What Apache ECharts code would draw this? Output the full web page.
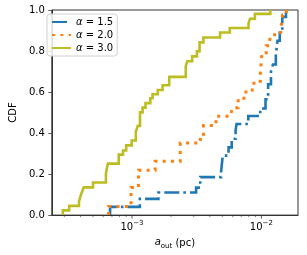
<!DOCTYPE html>
<html>
<head>
<meta charset="utf-8">
<script src="https://cdn.jsdelivr.net/npm/echarts@6/dist/echarts.min.js"></script>
<style>
html,body{margin:0;padding:0;background:#fff;}
#c{width:307px;height:255px;}
</style>
</head>
<body>
<div id="c"></div>
<script>
// ---- data ----
const seriesNames = ['α = 1.5', 'α = 2.0', 'α = 3.0'];

// α = 1.5 : a_out (pc) at each CDF jump, and CDF level after the jump
const a15X = [6.77e-4, 6.77e-4, 1.15e-3, 1.60e-3, 3.13e-3, 3.37e-3, 4.88e-3, 5.03e-3, 5.58e-3, 5.90e-3, 6.32e-3, 6.43e-3, 7.93e-3, 9.80e-3, 1.077e-2, 1.128e-2, 1.187e-2, 1.229e-2, 1.294e-2, 1.333e-2, 1.387e-2, 1.452e-2, 1.55e-2];
const a15Y = [0, 0.040, 0.079, 0.110, 0.134, 0.185, 0.210, 0.290, 0.330, 0.372, 0.412, 0.444, 0.483, 0.520, 0.565, 0.638, 0.700, 0.734, 0.780, 0.850, 0.900, 0.966, 1.0];

// α = 2.0
const a20X = [6.59e-4, 6.59e-4, 9.83e-4, 1.122e-3, 1.51e-3, 2.36e-3, 3.37e-3, 3.57e-3, 4.46e-3, 5.77e-3, 5.97e-3, 6.62e-3, 7.60e-3, 8.76e-3, 9.83e-3, 1.009e-2, 1.09e-2, 1.153e-2, 1.187e-2, 1.41e-2, 1.435e-2, 1.46e-2, 1.563e-2];
const a20Y = [0, 0.042, 0.134, 0.219, 0.262, 0.351, 0.369, 0.437, 0.482, 0.490, 0.523, 0.570, 0.610, 0.652, 0.697, 0.783, 0.826, 0.847, 0.879, 0.903, 0.939, 0.976, 1.0];

// α = 3.0
const a30X = [2.92e-4, 2.92e-4, 3.27e-4, 3.89e-4, 3.99e-4, 4.11e-4, 4.24e-4, 5.00e-4, 6.29e-4, 6.51e-4, 7.90e-4, 8.52e-4, 9.02e-4, 9.95e-4, 1.071e-3, 1.109e-3, 1.153e-3, 1.208e-3, 1.272e-3, 1.386e-3, 1.442e-3, 1.582e-3, 1.724e-3, 1.94e-3, 2.604e-3, 2.677e-3, 2.917e-3, 3.178e-3, 3.330e-3, 3.566e-3, 4.80e-3, 5.70e-3, 7.96e-3, 8.18e-3, 8.91e-3, 1.173e-2];
const a30Y = [0, 0.023, 0.045, 0.066, 0.090, 0.114, 0.135, 0.159, 0.203, 0.251, 0.295, 0.315, 0.340, 0.364, 0.407, 0.435, 0.501, 0.524, 0.546, 0.570, 0.589, 0.610, 0.633, 0.674, 0.726, 0.750, 0.774, 0.799, 0.842, 0.866, 0.890, 0.912, 0.936, 0.957, 0.981, 1.0];

// axis ranges and ticks
const xMin = 2.40e-4, xMax = 1.92e-2;
const majorTicks = [1e-3, 1e-2];
const minorTicks = [3e-4, 4e-4, 5e-4, 6e-4, 7e-4, 8e-4, 9e-4, 2e-3, 3e-3, 4e-3, 5e-3, 6e-3, 7e-3, 8e-3, 9e-3];
const yTicks = [0, 0.2, 0.4, 0.6, 0.8, 1.0];

// ---- build ----
const zip = (xs, ys) => xs.map((x, i) => [x, ys[i]]);
const colors = ['#1f77b4', '#ff7f0e', '#bcbd22'];
const styles = [
  { width: 2.6, type: [15, 4, 2.6, 4], cap: 'butt' },
  { width: 3, type: [3, 5.3], cap: 'butt' },
  { width: 2.6, type: 'solid', cap: 'butt' }
];
const datas = [zip(a15X, a15Y), zip(a20X, a20Y), zip(a30X, a30Y)];

const lineSeries = datas.map((d, i) => ({
  name: seriesNames[i],
  type: 'line',
  step: 'end',
  data: d,
  symbol: 'none',
  showSymbol: false,
  clip: false,
  color: colors[i],
  lineStyle: { color: colors[i], width: styles[i].width, type: styles[i].type, cap: styles[i].cap, join: 'miter' },
  z: 3 + i
}));

const tickData = majorTicks.map(v => [v, 3.5, 0.8]).concat(minorTicks.map(v => [v, 2, 0.6]));
const tickSeries = {
  type: 'custom',
  silent: true,
  clip: false,
  z: 10,
  data: tickData,
  encode: { x: 0, y: 1 },
  renderItem: function (params, api) {
    const p = api.coord([api.value(0), 0]);
    const len = api.value(1);
    const w = api.value(2);
    return {
      type: 'line',
      shape: { x1: p[0], y1: p[1], x2: p[0], y2: p[1] + len },
      style: { stroke: '#333', lineWidth: w }
    };
  }
};

const chart = echarts.init(document.getElementById('c'), null, { renderer: 'canvas' });
chart.setOption({
  animation: false,
  backgroundColor: '#fff',
  textStyle: { fontFamily: 'DejaVu Sans', color: '#000' },
  grid: { left: 43, right: 9, top: 10, bottom: 38, show: true, borderColor: '#333', borderWidth: 1, backgroundColor: 'transparent' },
  legend: {
    left: 47, top: 14,
    orient: 'vertical',
    itemWidth: 19, itemHeight: 10, itemGap: 3,
    padding: [3, 4, 3, 4],
    borderColor: '#d0d0d0', borderWidth: 1, borderRadius: 3,
    backgroundColor: 'rgba(255,255,255,0.85)',
    data: seriesNames,
    itemStyle: { opacity: 0, color: 'transparent', borderColor: 'transparent', borderWidth: 0 },
    formatter: n => n.replace('α', '{i|α}'),
    textStyle: {
      fontFamily: 'DejaVu Sans', fontSize: 10, color: '#000',
      rich: { i: { fontStyle: 'italic', fontFamily: 'DejaVu Sans', fontSize: 10, color: '#000' } }
    }
  },
  xAxis: {
    type: 'log', logBase: 10, min: xMin, max: xMax,
    axisLine: { show: true, lineStyle: { color: '#333', width: 1 } },
    axisTick: { show: false },
    splitLine: { show: false },
    minorTick: { show: false },
    axisLabel: {
      margin: 5,
      formatter: function (v) {
        const e = Math.log10(v);
        if (Math.abs(e - Math.round(e)) > 1e-6) return '';
        const n = Math.round(e);
        return '{b|10}{s|' + (n < 0 ? '\u2212' : '') + Math.abs(n) + '}';
      },
      rich: {
        b: { fontFamily: 'DejaVu Sans', fontSize: 10, color: '#000', lineHeight: 12, verticalAlign: 'bottom' },
        s: { fontFamily: 'DejaVu Sans', fontSize: 7, color: '#000', lineHeight: 12, verticalAlign: 'top' }
      }
    },
    name: '{i|a}{sub|out} (pc)',
    nameLocation: 'middle',
    nameGap: 17,
    nameTextStyle: {
      fontFamily: 'DejaVu Sans', fontSize: 10, color: '#000',
      rich: {
        i: { fontStyle: 'italic', fontFamily: 'DejaVu Sans', fontSize: 10, color: '#000', lineHeight: 13, verticalAlign: 'top' },
        sub: { fontFamily: 'DejaVu Sans', fontSize: 7, color: '#000', lineHeight: 13, verticalAlign: 'bottom' }
      }
    }
  },
  yAxis: {
    type: 'value', min: 0, max: 1, interval: 0.2,
    axisLine: { show: true, lineStyle: { color: '#333', width: 1 } },
    axisTick: { show: true, inside: false, length: 3.5, lineStyle: { color: '#333', width: 0.8 } },
    splitLine: { show: false },
    axisLabel: { margin: 7, fontSize: 10, color: '#000', fontFamily: 'DejaVu Sans', formatter: v => v.toFixed(1) },
    name: 'CDF',
    nameLocation: 'middle',
    nameGap: 29,
    nameTextStyle: { fontFamily: 'DejaVu Sans', fontSize: 10, color: '#000' }
  },
  series: lineSeries.concat([tickSeries])
});
</script>
</body>
</html>
